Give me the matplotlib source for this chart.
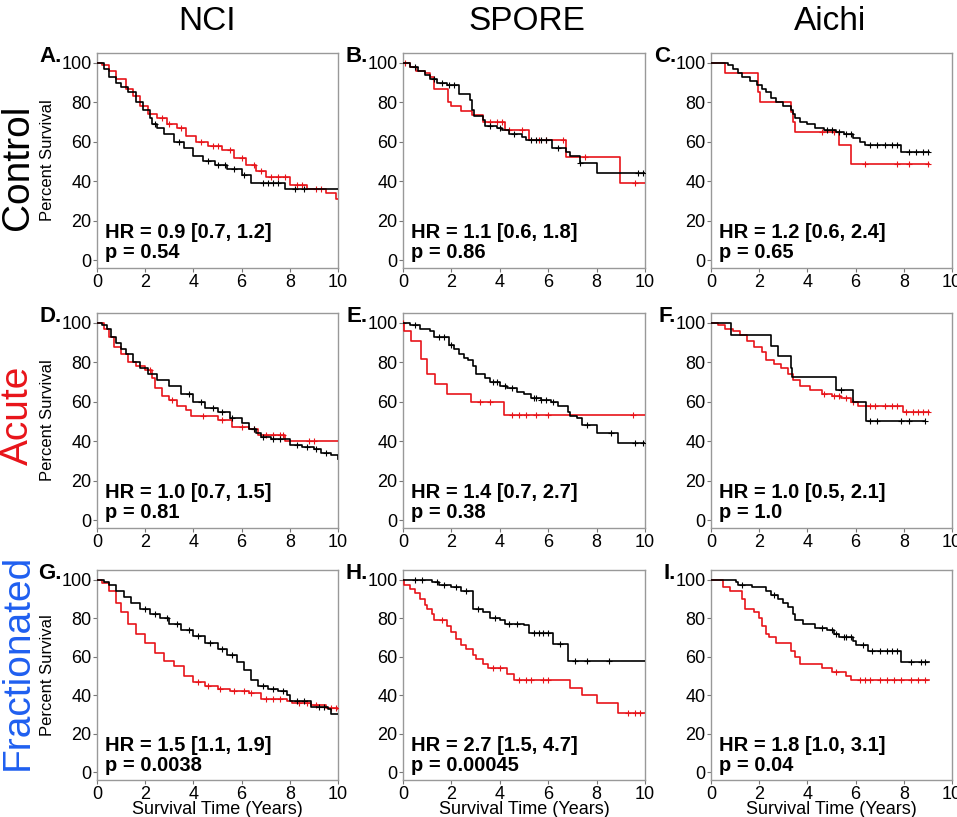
import numpy as np
import matplotlib
matplotlib.use("Agg")
import matplotlib.pyplot as plt

plt.rcParams["font.family"] = ["Liberation Sans", "DejaVu Sans"]

# Kaplan-Meier curves: step times (years), percent survival, censor times
# A. NCI control
a_blk_t = [0, 0.3, 0.5, 0.8, 1.0, 1.3, 1.6, 1.9, 2.2, 2.3, 2.5, 2.8, 3.2, 3.6, 4.0, 4.4, 4.9, 5.4, 6.0, 6.4, 7.8, 10]
a_blk_s = [100, 97, 93, 90, 88, 85, 80, 76, 72, 69, 67, 64, 60, 57, 53, 50, 48, 46, 43, 39, 36, 36]
a_blk_c = [2.4, 3.4, 4.6, 5.0, 5.3, 5.7, 6.1, 6.9, 7.1, 7.3, 7.5, 8.2, 8.6]
a_red_t = [0, 0.2, 0.5, 0.8, 1.2, 1.5, 1.8, 2.1, 2.5, 2.9, 3.3, 3.7, 4.1, 4.6, 5.2, 5.7, 6.2, 6.6, 7.0, 8.0, 8.7, 9.5, 9.9, 10]
a_red_s = [100, 99, 96, 92, 87, 83, 78, 74, 72, 69, 67, 63, 60, 58, 56, 52, 48, 45, 42, 38, 36, 34, 31, 31]
a_red_c = [2.7, 3.0, 3.5, 4.3, 4.8, 5.0, 5.5, 6.0, 6.5, 6.8, 7.2, 7.5, 7.8, 8.3, 8.5, 9.1, 9.3]

# B. SPORE control
b_blk_t = [0, 0.3, 0.6, 0.9, 1.1, 1.4, 1.8, 2.3, 2.75, 2.85, 2.95, 3.3, 3.4, 3.9, 4.1, 4.4, 4.9, 5.1, 6.15, 6.75, 6.9, 7.3, 8.0, 10]
b_blk_s = [100, 98, 96, 94, 92, 90, 89, 84, 81, 76, 73, 71, 68, 67, 66, 64, 62.5, 61, 57, 55, 53, 49, 44, 44]
b_blk_c = [0.5, 1.3, 1.6, 1.9, 2.1, 3.6, 4.0, 4.6, 5.3, 5.5, 5.7, 5.9, 6.4, 7.3, 9.7, 9.9]
b_red_t = [0, 0.28, 0.55, 0.9, 1.1, 1.3, 1.85, 2.0, 2.4, 2.85, 3.3, 4.2, 5.2, 6.75, 8.95, 10]
b_red_s = [100, 98, 96, 95, 93, 86.5, 80, 78, 75.7, 73.6, 70, 66, 61, 52.4, 39, 39]
b_red_c = [0.1, 3.6, 3.9, 4.1, 4.4, 4.9, 5.6, 5.9, 6.6, 7.5, 9.6]

# C. Aichi control
c_blk_t = [0, 0.7, 0.9, 1.1, 1.3, 1.6, 1.9, 2.1, 2.3, 2.5, 2.7, 3.0, 3.3, 3.4, 3.5, 3.7, 4.0, 4.3, 4.7, 5.2, 5.5, 5.9, 6.2, 6.4, 7.9, 9.05]
c_blk_s = [100, 99, 97, 95, 93, 91, 89, 87, 85, 82, 80, 78, 76, 74, 72, 70, 69, 67, 66, 65, 64, 62, 60, 58.5, 55, 55]
c_blk_c = [4.8, 5.0, 5.3, 5.6, 5.8, 6.6, 6.9, 7.2, 7.5, 7.7, 8.2, 8.5, 8.8, 9.0]
c_red_t = [0, 0.6, 1.95, 2.05, 3.3, 3.4, 3.5, 5.3, 5.8, 9.05]
c_red_s = [100, 95, 85, 80, 75, 70, 65, 58.5, 48.5, 48.5]
c_red_c = [4.6, 5.1, 6.4, 7.7, 8.2, 9.0]

# D. NCI acute
d_blk_t = [0, 0.2, 0.4, 0.6, 0.8, 1.0, 1.2, 1.5, 1.8, 2.1, 2.5, 3.0, 3.5, 4.0, 4.5, 5.0, 5.5, 6.0, 6.3, 6.6, 6.8, 7.2, 8.0, 8.5, 9.0, 9.3, 9.7, 10]
d_blk_s = [100, 99, 97, 93, 90, 87, 84, 80, 77, 74, 71, 68, 64, 60, 57, 55, 52, 49, 46, 44, 42, 41, 38, 37, 36, 34, 33, 31]
d_blk_c = [3.8, 4.3, 4.8, 5.2, 5.6, 6.5, 6.9, 7.3, 7.6, 8.3, 8.7, 9.1, 9.5]
d_red_t = [0, 0.3, 0.5, 0.7, 1.0, 1.3, 1.6, 2.0, 2.3, 2.4, 2.7, 3.0, 3.3, 3.7, 3.9, 5.0, 5.6, 6.3, 6.7, 7.8, 10]
d_red_s = [100, 97, 93, 88, 84, 80, 78, 76, 72, 67, 63, 61, 58, 56, 53, 51, 47, 46, 43, 40, 40]
d_red_c = [2.2, 3.1, 4.4, 5.2, 6.0, 6.5, 7.0, 7.3, 7.6, 7.7, 8.8, 9.0]

# E. SPORE acute
e_blk_t = [0, 0.3, 0.7, 1.1, 1.3, 1.9, 2.1, 2.3, 2.5, 2.7, 2.9, 3.0, 3.4, 3.6, 4.0, 4.3, 4.7, 5.0, 5.3, 5.7, 6.1, 6.4, 6.8, 6.9, 7.2, 7.4, 8.0, 8.9, 10]
e_blk_s = [100, 99, 97, 96, 93, 89, 87, 84, 82, 81, 78, 74, 72, 70, 68, 67, 65, 64, 62, 61, 60, 58, 55, 53, 52, 48, 44, 39, 39]
e_blk_c = [0.5, 1.5, 1.7, 2.0, 3.7, 3.9, 4.2, 4.5, 5.4, 5.5, 5.7, 5.9, 6.2, 7.6, 8.6, 9.6, 9.9]
e_red_t = [0, 0.05, 0.34, 0.76, 0.99, 1.31, 1.83, 2.83, 4.18, 10]
e_red_s = [100, 96, 91, 81.5, 74, 69, 64, 60, 53.5, 53.5]
e_red_c = [0.02, 3.2, 3.6, 4.5, 4.8, 5.1, 5.5, 6.0, 9.5]

# F. Aichi acute
f_blk_t = [0, 0.85, 2.5, 2.8, 3.3, 3.35, 5.2, 5.9, 6.45, 8.9]
f_blk_s = [100, 94, 88.5, 83, 77, 72.5, 66, 60, 50, 50]
f_blk_c = [5.4, 6.6, 6.9, 7.9, 8.2, 8.9]
f_red_t = [0, 0.3, 0.6, 0.9, 1.2, 1.5, 1.8, 2.1, 2.3, 2.6, 2.9, 3.2, 3.4, 3.7, 4.1, 4.6, 5.0, 5.4, 5.8, 6.1, 7.95, 9.05]
f_red_s = [100, 99, 97, 96, 94, 91, 88, 85, 81, 79, 77, 74, 71, 68, 66, 64, 63, 62, 60, 58, 55, 55]
f_red_c = [4.7, 5.1, 5.3, 5.6, 5.9, 6.6, 6.8, 7.2, 7.5, 7.7, 8.1, 8.4, 8.6, 8.8, 9.0]

# G. NCI fractionated
g_blk_t = [0, 0.3, 0.5, 0.8, 1.1, 1.4, 1.8, 2.2, 2.6, 3.0, 3.5, 4.0, 4.5, 5.0, 5.4, 5.8, 6.1, 6.4, 6.7, 7.1, 7.5, 7.9, 8.0, 8.9, 9.6, 9.7, 10]
g_blk_s = [100, 99, 97, 94, 91, 88, 85, 82, 80, 77, 74, 71, 67, 64, 61, 57, 53, 48, 45, 43, 42, 40, 37, 34, 33, 30, 30]
g_blk_c = [2.0, 2.4, 2.9, 3.3, 3.8, 4.2, 4.7, 5.2, 5.6, 6.9, 7.3, 7.7, 8.3, 8.6, 9.2, 9.4]
g_red_t = [0, 0.2, 0.5, 0.8, 1.0, 1.3, 1.6, 2.0, 2.4, 2.8, 3.2, 3.6, 4.0, 4.5, 5.0, 5.5, 6.3, 6.8, 7.9, 8.1, 8.9, 9.5, 10]
g_red_s = [100, 98, 94, 88, 83, 77, 72, 67, 62, 58, 55, 50, 47, 45, 43, 42, 41, 38, 37, 36, 35, 33.5, 33]
g_red_c = [4.2, 4.6, 5.1, 5.7, 6.1, 6.4, 7.0, 7.3, 7.6, 8.4, 8.7, 9.1, 9.7, 9.9]

# H. SPORE fractionated
h_blk_t = [0, 1.2, 1.5, 2.0, 2.4, 2.9, 3.3, 3.6, 4.0, 4.2, 5.0, 5.2, 6.2, 6.8, 10]
h_blk_s = [100, 99, 97, 96, 94, 85, 83, 80, 79, 77, 76.5, 72.3, 66.4, 58, 58]
h_blk_c = [0.5, 0.8, 1.4, 1.7, 2.2, 2.6, 3.1, 3.8, 4.4, 4.7, 5.4, 5.6, 5.8, 6.0, 6.5, 7.1, 7.6, 8.5]
h_red_t = [0, 0.05, 0.3, 0.5, 0.7, 0.9, 1.0, 1.2, 1.3, 1.8, 2.0, 2.2, 2.4, 2.6, 2.9, 3.0, 3.3, 3.5, 4.3, 4.6, 6.9, 7.4, 8.0, 8.9, 10]
h_red_s = [100, 97, 95, 93, 90, 87, 85, 82, 79, 76, 73, 69, 66, 64, 61, 59, 56, 54, 51, 48, 44, 40, 36, 31, 31]
h_red_c = [1.6, 3.7, 4.0, 4.8, 5.1, 5.3, 5.8, 6.0, 9.3, 9.6, 9.8]

# I. Aichi fractionated
i_blk_t = [0, 1.05, 1.1, 1.7, 2.3, 2.5, 2.8, 3.0, 3.2, 3.4, 3.5, 3.8, 4.3, 4.8, 5.1, 5.3, 5.9, 6.0, 6.5, 7.9, 9.05]
i_blk_s = [100, 99, 97, 96, 94, 92, 90, 88, 86, 82, 79, 77, 75, 74, 72, 70, 68, 66, 63, 57, 57]
i_blk_c = [1.3, 2.6, 4.6, 5.0, 5.2, 5.5, 5.6, 5.8, 6.3, 6.7, 7.0, 7.3, 7.5, 7.7, 8.3, 8.7, 8.9]
i_red_t = [0, 0.5, 0.8, 1.3, 1.4, 1.8, 2.0, 2.1, 2.3, 2.4, 2.7, 3.3, 3.5, 3.7, 4.6, 5.0, 5.6, 5.8, 9.05]
i_red_s = [100, 96, 94, 90, 85, 83, 80, 76, 72, 70, 67, 63, 60, 56, 54, 52, 50, 48, 48]
i_red_c = [5.2, 6.2, 6.4, 6.6, 7.0, 7.3, 7.6, 7.9, 8.3, 8.6, 8.9]

letters = ["A.", "B.", "C.", "D.", "E.", "F.", "G.", "H.", "I."]
hr_text = ["HR = 0.9 [0.7, 1.2]", "HR = 1.1 [0.6, 1.8]", "HR = 1.2 [0.6, 2.4]",
           "HR = 1.0 [0.7, 1.5]", "HR = 1.4 [0.7, 2.7]", "HR = 1.0 [0.5, 2.1]",
           "HR = 1.5 [1.1, 1.9]", "HR = 2.7 [1.5, 4.7]", "HR = 1.8 [1.0, 3.1]"]
p_text = ["p = 0.54", "p = 0.86", "p = 0.65",
          "p = 0.81", "p = 0.38", "p = 1.0",
          "p = 0.0038", "p = 0.00045", "p = 0.04"]
col_titles = ["NCI", "SPORE", "Aichi"]
row_titles = ["Control", "Acute", "Fractionated"]
row_colors = ["black", "#e8141a", "#1f5ff0"]

curves = [
    (a_blk_t, a_blk_s, a_blk_c, a_red_t, a_red_s, a_red_c),
    (b_blk_t, b_blk_s, b_blk_c, b_red_t, b_red_s, b_red_c),
    (c_blk_t, c_blk_s, c_blk_c, c_red_t, c_red_s, c_red_c),
    (d_blk_t, d_blk_s, d_blk_c, d_red_t, d_red_s, d_red_c),
    (e_blk_t, e_blk_s, e_blk_c, e_red_t, e_red_s, e_red_c),
    (f_blk_t, f_blk_s, f_blk_c, f_red_t, f_red_s, f_red_c),
    (g_blk_t, g_blk_s, g_blk_c, g_red_t, g_red_s, g_red_c),
    (h_blk_t, h_blk_s, h_blk_c, h_red_t, h_red_s, h_red_c),
    (i_blk_t, i_blk_s, i_blk_c, i_red_t, i_red_s, i_red_c),
]


def km(ax, t, s, c, color):
    t = np.asarray(t)
    s = np.asarray(s)
    ax.step(t, s, where="post", color=color, lw=1.2, zorder=3)
    idx = np.searchsorted(t, c, side="right") - 1
    ax.plot(c, s[idx], ls="none", marker="+", ms=5, mew=0.8, color=color, zorder=3)


W, H = 957, 817
fig = plt.figure(figsize=(W / 100, H / 100), dpi=100)

col_px = [(97, 338), (403, 645), (711, 952)]
row_px = [(53, 268), (313, 528), (570, 780)]
red = "#e8141a"

for r in range(3):
    for k in range(3):
        x0, x1 = col_px[k]
        y0, y1 = row_px[r]
        ax = fig.add_axes([x0 / W, 1 - y1 / H, (x1 - x0) / W, (y1 - y0) / H])
        n = r * 3 + k
        bt, bs, bc, rt, rs, rc = curves[n]
        km(ax, rt, rs, rc, red)
        km(ax, bt, bs, bc, "black")
        ax.set_xlim(0, 10)
        ax.set_ylim(-4, 105)
        ax.set_xticks([0, 2, 4, 6, 8, 10])
        ax.set_yticks([0, 20, 40, 60, 80, 100])
        ax.tick_params(labelsize=13, length=3, width=0.8, color="#777777", pad=1)
        for sp in ax.spines.values():
            sp.set_color("#999999")
            sp.set_linewidth(1)
        ax.text(0.035, 0.14, hr_text[n], transform=ax.transAxes, fontsize=14.5,
                fontweight="bold", va="baseline")
        ax.text(0.035, 0.045, p_text[n], transform=ax.transAxes, fontsize=14.5,
                fontweight="bold", va="baseline")
        ax.text(-0.145, 0.985, letters[n], transform=ax.transAxes, fontsize=16,
                fontweight="bold", ha="right", va="center")
        if k == 0:
            ax.set_ylabel("Percent Survival", fontsize=12)
            ax.yaxis.set_label_coords(-0.175, 0.5)
        if r == 2:
            ax.set_xlabel("Survival Time (Years)", fontsize=13)
            ax.xaxis.set_label_coords(0.5, -0.1)

for k, name in enumerate(col_titles):
    fig.text([207, 527, 830][k] / W, 1 - 22 / H, name, fontsize=24, ha="center", va="center")

for r, name in enumerate(row_titles):
    fig.text(18 / W, 1 - [167, 415, 662][r] / H, name, fontsize=28, rotation=90,
             ha="center", va="center", color=row_colors[r])

fig.savefig("out.png", dpi=100)
